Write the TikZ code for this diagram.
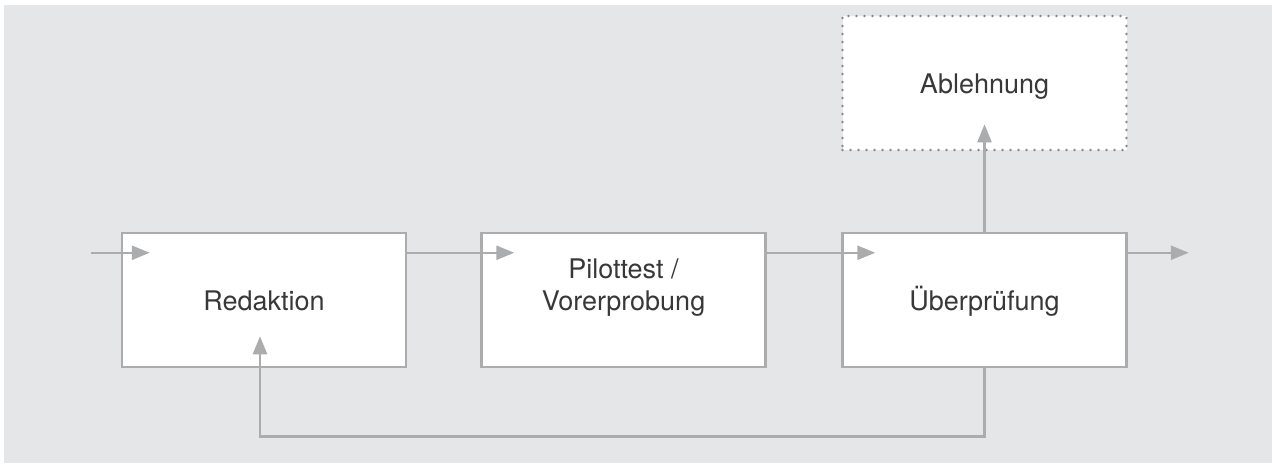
\documentclass[tikz,border=0pt]{standalone}
\usepackage{fontspec}
\setmainfont{TeX Gyre Heros}
\usetikzlibrary{arrows.meta}
\definecolor{bg}{HTML}{E5E6E7}
\definecolor{ln}{HTML}{ABACAE}
\definecolor{dotc}{HTML}{8A8A8C}
\definecolor{txt}{HTML}{383838}
\begin{document}
\begin{tikzpicture}[x=0.5pt,y=-0.5pt,
  box/.style={draw=ln, fill=white, line width=1.25pt, minimum width=142pt,
    minimum height=67pt, inner sep=0pt, text=txt,
    font=\fontsize{13.5pt}{16pt}\selectfont, text height=10pt, text depth=0pt},
  dbox/.style={box, draw=dotc, line width=1.3pt, dash pattern=on 0pt off 4pt, line cap=round},
  conn/.style={draw=ln, line width=1.25pt, -{Triangle[length=9pt,width=7pt]}}]
\useasboundingbox (0,0) rectangle (1272,463);
\fill[white] (0,0) rectangle (1272,463);
\fill[bg] (4,5) rectangle (1272,463);
\node[box] (red) at (264,300) {Redaktion};
\node[box] (pil) at (623.5,300) {\begin{tabular}[b]{@{}c@{}}Pilottest /\\Vorerprobung\end{tabular}};
\node[box] (ueb) at (984.5,300) {Überprüfung};
\node[dbox] (abl) at (984.5,83) {Ablehnung};
\coordinate (in) at ([shift={(-30,21)}]red.north west);
\coordinate (out) at ([shift={(61,21)}]ueb.north east);
\draw[conn] (in) -- ([shift={(29,21)}]red.north west);
\draw[conn] ([shift={(0,21)}]red.north east) -- ([shift={(34,21)}]pil.north west);
\draw[conn] ([shift={(0,21)}]pil.north east) -- ([shift={(34,21)}]ueb.north west);
\draw[conn] ([shift={(0,21)}]ueb.north east) -- (out);
\draw[conn] (ueb.north) -- ([shift={(0,-27)}]abl.south);
\draw[conn] (ueb.south) -- ++(0,68) -| ([shift={(-4,-32)}]red.south);
\end{tikzpicture}
\end{document}
